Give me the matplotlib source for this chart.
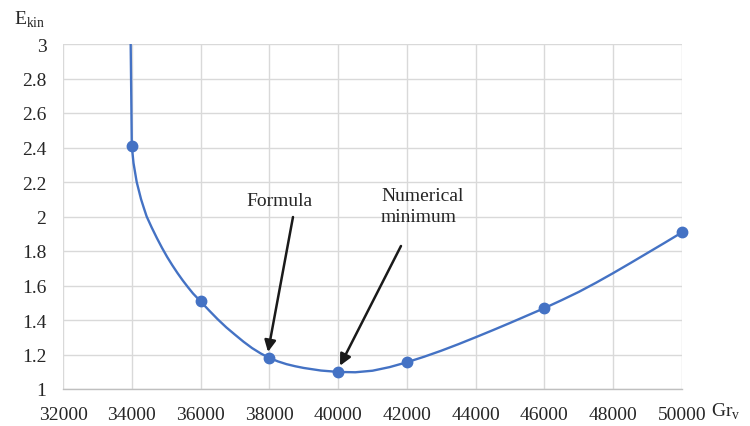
import matplotlib.pyplot as plt

plt.rcParams['font.family'] = ['Liberation Serif', 'DejaVu Serif']

# computed points (markers)
gr_points = [34000, 36000, 38000, 40000, 42000, 46000, 50000]
ekin_points = [2.41, 1.51, 1.18, 1.10, 1.155, 1.468, 1.908]

# smoothed curve
curve_gr = [33965, 33985, 34000, 34050, 34143, 34270, 34350, 34433, 34580, 34730,
            34880, 35030, 35180, 35330, 35480, 35630, 35780, 36000, 36250, 36500,
            36750, 37000, 37250, 37500, 37750, 38000, 38250, 38500, 38750, 39000,
            39500, 40000, 40500, 41000, 41500, 42000, 42500, 43000, 43500, 44000,
            44500, 45000, 45500, 46000, 46500, 47000, 47500, 48000, 48500, 49000,
            49500, 50000]
curve_ekin = [3.05, 2.70, 2.41, 2.31, 2.20, 2.10, 2.05, 2.00, 1.936, 1.875,
              1.818, 1.765, 1.717, 1.672, 1.630, 1.591, 1.554, 1.508, 1.455, 1.404,
              1.357, 1.315, 1.274, 1.237, 1.206, 1.18, 1.16, 1.144, 1.132, 1.122,
              1.107, 1.099, 1.097, 1.106, 1.127, 1.155, 1.187, 1.222, 1.260, 1.300,
              1.341, 1.383, 1.426, 1.469, 1.515, 1.563, 1.616, 1.672, 1.730, 1.789,
              1.848, 1.908]

blue = '#4472C4'
txt = '#262626'

fig, ax = plt.subplots(figsize=(7.5, 4.27), dpi=100)
fig.subplots_adjust(left=63/750, right=682/750, top=1-45/427, bottom=1-390/427)

ax.plot(curve_gr, curve_ekin, color=blue, lw=1.7, solid_joinstyle='round', zorder=3)
ax.plot(gr_points, ekin_points, 'o', color=blue, ms=7.5, zorder=4, clip_on=False)

ax.set_xlim(32000, 50000)
ax.set_ylim(1, 3)
ax.set_xticks(range(32000, 50001, 2000))
ax.set_yticks([1, 1.2, 1.4, 1.6, 1.8, 2, 2.2, 2.4, 2.6, 2.8, 3])
ax.set_yticklabels(['1', '1.2', '1.4', '1.6', '1.8', '2', '2.2', '2.4', '2.6', '2.8', '3'])
ax.grid(True, color='#d9d9d9', lw=1.0)
ax.set_axisbelow(True)
for s in ['top', 'right', 'left']:
    ax.spines[s].set_visible(False)
ax.spines['bottom'].set_color('#bfbfbf')
ax.spines['bottom'].set_linewidth(1.0)
ax.tick_params(axis='both', length=0, labelsize=14, colors=txt)
ax.tick_params(axis='x', pad=12)
ax.tick_params(axis='y', pad=12)

fig.text(14/750, 1-20/427, r'E$_{\mathregular{kin}}$', fontsize=14, color=txt, va='center', ha='left')
fig.text(711/750, 1-412/427, r'Gr$_{\mathregular{v}}$', fontsize=14, color=txt, va='center', ha='left')

arrow = dict(arrowstyle='-|>', lw=1.8, color='#1a1a1a', mutation_scale=17, shrinkA=0, shrinkB=0)
ax.text(38281, 2.095, 'Formula', fontsize=14, ha='center', va='center', color=txt)
ax.annotate('', xy=(37961, 1.215), xytext=(38688, 1.997), arrowprops=arrow)
ax.text(41247, 2.06, 'Numerical\nminimum', fontsize=14, ha='left', va='center', color=txt, linespacing=1.3)
ax.annotate('', xy=(40055, 1.135), xytext=(41828, 1.829), arrowprops=arrow)

plt.savefig('out.png', dpi=100)
plt.close()
